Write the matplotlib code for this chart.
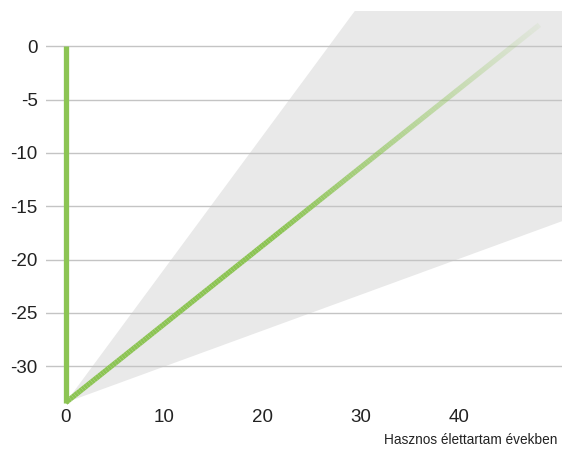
import numpy as np
import matplotlib
matplotlib.use("Agg")
import matplotlib.pyplot as plt
from matplotlib.collections import LineCollection
from matplotlib.colors import to_rgba

plt.rcParams['font.family'] = ['Liberation Sans', 'DejaVu Sans']

# Data
payback_x = [0, 0]
payback_y = [0, -33.4]
trend_x = [0, 48.2]
trend_y = [-33.4, 2.0]
band_x = [0, 50.5]
band_upper = [-33.4, 29.6]
band_lower = [-33.4, -16.4]
yticks = [0, -5, -10, -15, -20, -25, -30]
xticks = [0, 10, 20, 30, 40]
xlabel = "Hasznos élettartam években"

green = "#8CC453"

fig = plt.figure(figsize=(5.62, 4.49), dpi=100)
ax = fig.add_axes([46/562, 40/449, 516/562, 398/449])
ax.set_xlim(-2, 50.5)
ax.set_ylim(-34, 3.3)

ax.fill_between(band_x, band_lower, band_upper, color="#e9e9e9", lw=0, zorder=1)

for y in yticks:
    ax.axhline(y, color="#c4c4c4", lw=1.0, zorder=2)

ax.plot(payback_x, payback_y, color=green, lw=3.8, solid_capstyle="butt", zorder=3)

# gradient diagonal line
n = 200
xs = np.linspace(trend_x[0], trend_x[1], n + 1)
ys = np.interp(xs, trend_x, trend_y)
pts = np.column_stack([xs, ys]).reshape(-1, 1, 2)
segs = np.concatenate([pts[:-1], pts[1:]], axis=1)
t = np.linspace(0, 1, n)
alpha = np.where(t < 0.45, 1.0, 1.0 - (t - 0.45) / 0.55 * 0.92)
base = to_rgba(green)
cols = [(base[0], base[1], base[2], a) for a in alpha]
lc = LineCollection(segs, colors=cols, linewidths=3.8, capstyle="butt", zorder=3)
ax.add_collection(lc)

for s in ax.spines.values():
    s.set_visible(False)
ax.set_yticks(yticks)
ax.set_yticklabels([str(v) for v in yticks])
ax.set_xticks(xticks)
ax.set_xticklabels([str(v) for v in xticks])
ax.tick_params(axis="both", length=0, labelsize=13.5, colors="#222222")
ax.tick_params(axis="y", pad=6)
ax.tick_params(axis="x", pad=0)

fig.text(557/562, 1 - 440/449, xlabel, ha="right", va="center", fontsize=9.8, color="#222222")

fig.savefig("out.png", dpi=100)
